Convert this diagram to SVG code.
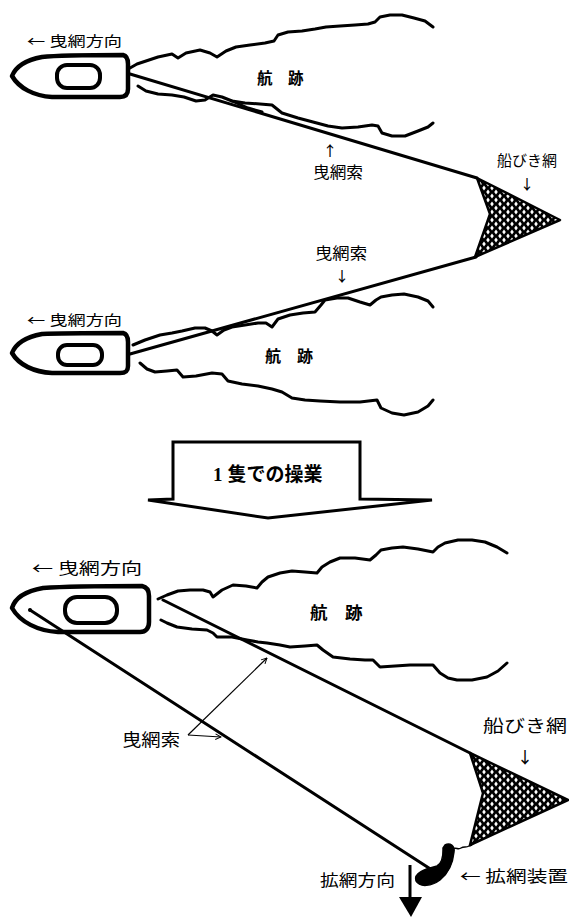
<svg xmlns="http://www.w3.org/2000/svg" width="569" height="918" viewBox="0 0 569 918">
  <style>
    .hull { fill: #fff; stroke: #000; stroke-width: 4.5; stroke-linejoin: round; }
    .cabin { fill: #fff; stroke: #000; stroke-width: 4; }
    .wake { fill: none; stroke: #000; stroke-width: 3; stroke-linejoin: round; stroke-linecap: round; }
    .rope { fill: none; stroke: #000; stroke-width: 3; stroke-linecap: round; }
    .thin { fill: none; stroke: #000; stroke-width: 1.2; }
    .net { fill: url(#mesh); stroke: #000; stroke-width: 2.5; stroke-linejoin: round; }
    .lbl { font-family: "Noto Sans CJK JP", "Noto Sans", sans-serif; fill: #000; }
    .pt { font-family: "Noto Sans CJK JP", sans-serif; fill: #000; font-weight: 500; opacity: 0.99; }
    .wk { font-family: "Noto Sans CJK JP", serif; font-weight: bold; fill: #000; }
  </style>
  <defs>
    <!-- netting: dark mesh with small light diamond openings -->
    <pattern id="mesh" width="8" height="8" patternUnits="userSpaceOnUse">
      <rect width="8" height="8" fill="#000"/>
      <polygon points="4,1.4 5.8,4 4,6.6 2.2,4" fill="#fff"/>
      <polygon points="0,-2.6 1.8,0 0,2.6 -1.8,0" fill="#fff"/>
      <polygon points="8,-2.6 9.8,0 8,2.6 6.2,0" fill="#fff"/>
      <polygon points="0,5.4 1.8,8 0,10.6 -1.8,8" fill="#fff"/>
      <polygon points="8,5.4 9.8,8 8,10.6 6.2,8" fill="#fff"/>
    </pattern>
    <marker id="open" viewBox="0 0 10 10" refX="9" refY="5" markerWidth="7" markerHeight="7" orient="auto" markerUnits="userSpaceOnUse">
      <path d="M1,1 L9,5 L1,9" fill="none" stroke="#000" stroke-width="1.4"/>
    </marker>
  </defs>
  <rect width="569" height="918" fill="#fff"/>

  <!-- ===== two-boat operation ===== -->
  <g id="wake1">
    <path class="wake" d="M130,68 L137,64 L146,61 L158,57 L172,54 L178,58 L186,53 L200,50 L210,53 L217,57 L226,51 L236,47 L250,45 L265,43 L274,41 L278,35 L288,32 L302,31 L315,29 L326,27 L340,26 L355,25 L368,24 L375,22 L380,17 L390,15 L402,15 L414,18 L425,21 L433,27"/>
    <path class="wake" d="M138,86 L146,91 L158,94 L172,95 L184,97 L196,101 L205,100 L213,95 L222,97 L232,101 L245,103 L260,104 L272,105 L282,113 L298,118 L313,122 L328,126 L342,128 L358,127 L372,125 L378,126 L382,133 L392,136 L405,136 L418,131 L428,127 L433,123"/>
    <path class="wake" d="M232,101 L248,108 L262,112" />
  </g>
  <g id="boat1">
    <path class="hull" d="M12,76 C16,66 26,60 42,57 C60,55 100,55 123,55 C127,56 128,60 128,64 L128,89 C128,94 126,97 120,97 L52,97 C34,96 19,88 12,76 Z"/>
    <rect class="cabin" x="57" y="65" width="43" height="23" rx="10"/>
  </g>

  <g id="wake2">
    <path class="wake" d="M133,345 L145,340 L160,335 L172,333 L182,331 L195,328 L205,328 L212,331 L217,335 L224,330 L232,327 L245,325 L258,323 L266,323 L272,327 L278,319 L290,315 L303,313 L315,312 L321,305 L325,300 L337,298 L348,298 L360,302 L370,305 L376,300 L381,297 L392,295 L404,294 L418,297 L428,301 L433,307"/>
    <path class="wake" d="M140,363 L147,369 L155,372 L167,371 L177,370 L183,377 L196,376 L212,373 L222,374 L228,381 L242,384 L258,386 L272,389 L282,392 L292,398 L305,400 L320,401 L340,402 L360,402 L377,400 L381,408 L392,413 L404,415 L418,412 L428,406 L433,400"/>
  </g>
  <g id="boat2">
    <path class="hull" d="M12,353 C16,343 26,337 42,334 C60,333 100,333 123,333 C127,334 128,338 128,342 L128,366 C128,371 126,373 120,373 L52,373 C34,372 19,365 12,353 Z"/>
    <rect class="cabin" x="58" y="345" width="44" height="20" rx="9"/>
  </g>

  <g id="net1">
    <polygon class="net" points="477,178 560,220 475,257 490,214"/>
  </g>

  <g id="ropes1">
    <line class="rope" x1="130" y1="74" x2="477" y2="178"/>
    <line class="rope" x1="130" y1="354" x2="476" y2="257"/>
  </g>

  <g id="labels1">
    <text class="lbl" x="27" y="46" font-size="14" textLength="95" lengthAdjust="spacingAndGlyphs">← 曳網方向</text>
    <text class="wk" x="257" y="84" font-size="15.5">航　跡</text>
    <text class="pt" x="330" y="156" font-size="14" text-anchor="middle">↑</text>
    <text class="lbl" x="313" y="178" font-size="16" textLength="50" lengthAdjust="spacingAndGlyphs">曳網索</text>
    <text class="lbl" x="497" y="166" font-size="15" textLength="60" lengthAdjust="spacingAndGlyphs">船びき網</text>
    <text class="pt" x="527" y="189" font-size="14" text-anchor="middle">↓</text>
    <text class="lbl" x="315" y="259" font-size="16" textLength="52" lengthAdjust="spacingAndGlyphs">曳網索</text>
    <text class="pt" x="342" y="281" font-size="14" text-anchor="middle">↓</text>
    <text class="lbl" x="27" y="325" font-size="14" textLength="95" lengthAdjust="spacingAndGlyphs">← 曳網方向</text>
    <text class="wk" x="265" y="362" font-size="16">航　跡</text>
  </g>

  <!-- ===== transition arrow ===== -->
  <g id="transition">
    <path d="M148,500 L173,499 L173,442 L360,442 L360,499 L432,500 L268,518 Z" fill="#fff" stroke="#000" stroke-width="3" stroke-linejoin="miter"/>
    <text x="213" y="481" font-size="19" font-weight="bold" fill="#000"><tspan font-family="'Liberation Serif', serif">1</tspan><tspan font-family="'Noto Sans CJK JP', sans-serif" dx="5">隻での操業</tspan></text>
  </g>

  <!-- ===== single-boat operation ===== -->
  <g id="wake3">
    <path class="wake" d="M158,599 L167,595 L178,591 L190,590 L203,590 L210,592 L213,597 L222,590 L233,585 L246,586 L257,588 L262,582 L268,577 L280,573 L292,571 L305,572 L317,573 L322,567 L330,562 L340,558 L355,558 L370,560 L376,555 L381,550 L392,548 L403,547 L418,549 L433,552 L438,547 L445,543 L458,540 L472,540 L485,542 L497,547 L507,553"/>
    <path class="wake" d="M161,620 L167,623 L177,627 L192,629 L207,630 L213,633 L217,637 L232,637 L247,640 L258,642 L267,643 L280,645 L290,647 L305,646 L317,645 L323,650 L333,657 L350,659 L365,660 L373,660 L380,667 L395,666 L410,665 L433,665 L440,673 L448,678 L457,680 L472,680 L487,677 L498,671 L507,663"/>
  </g>
  <g id="boat3">
    <path class="hull" stroke-width="5" d="M12,608 C15,598 26,591 43,588 C70,586 115,586 142,586 C147,587 149,591 149,596 L149,622 C149,628 146,632 140,632 L58,632 C38,631 20,622 12,608 Z"/>
    <rect class="cabin" x="65" y="597" width="52" height="26" rx="12" stroke-width="4.5"/>
    <circle cx="30" cy="610" r="2" fill="#000"/>
  </g>

  <g id="net2">
    <polygon class="net" points="470,753 568,800 470,845 483,793"/>
  </g>

  <g id="spreader">
    <path d="M445,845 C450,842 455,846 454,852 C453,862 450,872 440,880 C432,886 420,888 416,881 C413,873 425,869 437,866 C444,862 443,852 443,848 Z" fill="#000" stroke="#000" stroke-width="1.5"/>
    <path d="M453,849 C456,847 458,850 461,848 C464,846 466,848 469,846 L472,845" fill="none" stroke="#000" stroke-width="1.5"/>
  </g>

  <g id="ropes2">
    <line class="rope" x1="163" y1="600" x2="470" y2="753" stroke-width="2.5"/>
    <line class="rope" x1="30" y1="610" x2="432" y2="870" stroke-width="2.5"/>
  </g>

  <g id="pointers">
    <line class="thin" x1="188" y1="735" x2="267" y2="658" marker-end="url(#open)"/>
    <line class="thin" x1="188" y1="735" x2="221" y2="737" marker-end="url(#open)"/>
    <line x1="410" y1="865" x2="410" y2="899" stroke="#000" stroke-width="3"/>
    <polygon points="399,897 422,897 411,917" fill="#000"/>
  </g>

  <g id="labels2">
    <text class="lbl" x="32" y="574" font-size="16" textLength="110" lengthAdjust="spacingAndGlyphs">← 曳網方向</text>
    <text class="wk" x="310" y="619" font-size="17.5">航　跡</text>
    <text class="lbl" x="122" y="746" font-size="17" textLength="58" lengthAdjust="spacingAndGlyphs">曳網索</text>
    <text class="lbl" x="483" y="732" font-size="17" textLength="84" lengthAdjust="spacingAndGlyphs">船びき網</text>
    <text class="pt" x="525" y="763" font-size="16" text-anchor="middle">↓</text>
    <text class="lbl" x="320" y="886" font-size="16" textLength="75" lengthAdjust="spacingAndGlyphs">拡網方向</text>
    <text class="lbl" x="460" y="882" font-size="16" textLength="108" lengthAdjust="spacingAndGlyphs">← 拡網装置</text>
  </g>
</svg>
